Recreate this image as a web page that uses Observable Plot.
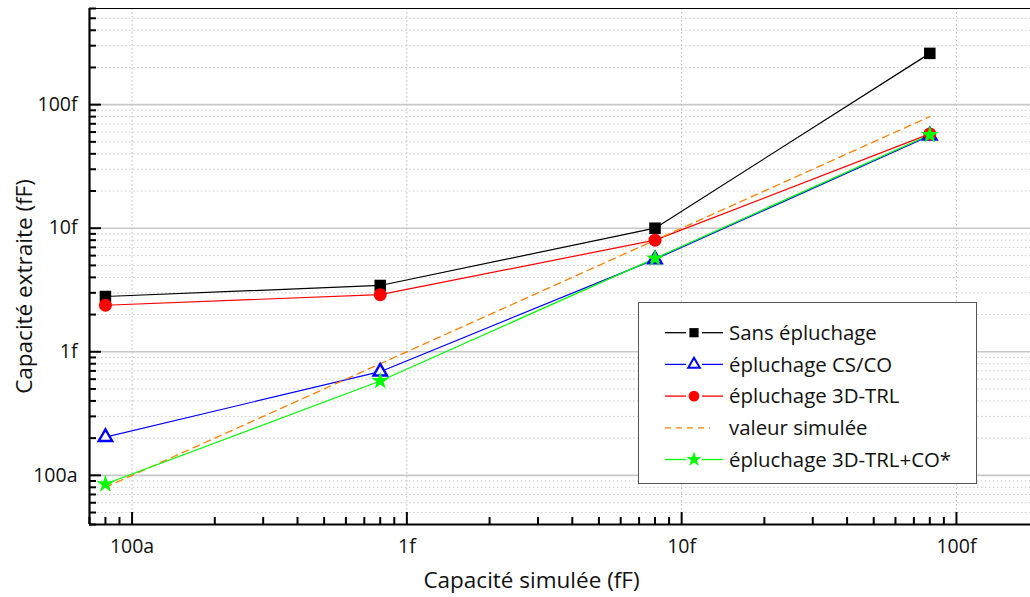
<!DOCTYPE html>
<html><head><meta charset="utf-8">
<script src="https://cdn.jsdelivr.net/npm/d3@7"></script>
<script src="https://cdn.jsdelivr.net/npm/@observablehq/plot@0.6"></script>
<style>
body{margin:0;background:#fff;font-family:"Open Sans",sans-serif;}
#wrap{position:relative;width:1030px;height:597px;overflow:hidden}
#legend{position:absolute;left:638px;top:302px;width:337px;height:180px;border:1.5px solid #555;background:#fff;}
#legend svg{display:block}
</style></head><body><div id="wrap"></div>
<script>
// ---- data ----
const simulated = [0.08, 0.8, 8, 80];                 // capacité simulée (fF)
const sansEpluchage = [2.8, 3.44, 10, 260];
const epluchageCSCO = [0.204, 0.69, 5.6, 56];
const epluchage3DTRL = [2.38, 2.9, 8.0, 58];
const valeurSimulee = [0.08, 0.8, 8, 80];
const epluchage3DTRLCO = [0.085, 0.58, 5.7, 57];
const seriesNames = ["Sans épluchage", "épluchage CS/CO", "épluchage 3D-TRL", "valeur simulée", "épluchage 3D-TRL+CO*"];
const majorTicks = [0.1, 1, 10, 100];
const majorLabels = ["100a", "1f", "10f", "100f"];
const xDomain = [0.07, 186];
const yDomain = [0.04, 600];

// ---- layout ----
const W = 1030, H = 597, mL = 89, mR = 0, mT = 8, mB = 73;
const innerW = W - mL - mR, innerH = H - mT - mB;

// ---- styles ----
const styles = [
  {values: sansEpluchage, color: "#000000", symbol: "square", r: 6.5, fill: "#000", sw: 0, lw: 1.2},
  {values: epluchageCSCO, color: "#0000ff", symbol: "triangle", r: 5, fill: "#fff", sw: 2.4, lw: 1.2},
  {values: epluchage3DTRL, color: "#ff0000", symbol: "circle", r: 6.5, fill: "#ff0000", sw: 0, lw: 1.2},
  {values: valeurSimulee, color: "#ff8000", symbol: null, dash: "7,5", lw: 1.3},
  {values: epluchage3DTRLCO, color: "#00ff00", symbol: "star", r: 5.6, fill: "#00ff00", sw: 0, lw: 1.2}
];

const fmt = d => majorLabels[majorTicks.indexOf(d)];
const minorY = [], minorX = [];
for (const dec of [0.01, 0.1, 1, 10, 100]) for (let m = 2; m <= 9; m++) {
  const v = +(dec * m).toPrecision(3);
  if (v >= yDomain[0] && v <= yDomain[1]) minorY.push(v);
  if (v >= xDomain[0] && v <= xDomain[1]) minorX.push(v);
}

const marks = [
  Plot.ruleY(minorY, {stroke: "#c8c8c8", strokeDasharray: "1.5,2.5", strokeWidth: 1}),
  Plot.ruleY(majorTicks, {stroke: "#c8c8c8", strokeWidth: 1.6}),
  Plot.ruleX(majorTicks, {stroke: "#bbbbbb", strokeDasharray: "1.5,2.5", strokeWidth: 1})
];
styles.forEach((s) => {
  const data = simulated.map((x, i) => ({x, y: s.values[i]}));
  marks.push(Plot.line(data, {x: "x", y: "y", stroke: s.color, strokeWidth: s.lw, strokeDasharray: s.dash}));
});
styles.forEach((s) => {
  if (!s.symbol) return;
  const data = simulated.map((x, i) => ({x, y: s.values[i]}));
  marks.push(Plot.dot(data, {x: "x", y: "y", symbol: () => s.symbol, r: s.r, fill: s.fill,
    stroke: s.sw ? s.color : "none", strokeWidth: s.sw}));
});
marks.push(
  Plot.ruleX([xDomain[0]], {stroke: "#000", strokeWidth: 2.2}),
  Plot.ruleY([yDomain[0]], {stroke: "#000", strokeWidth: 2.2}),
  Plot.ruleY([yDomain[1]], {stroke: "#000", strokeWidth: 1.2}),
  // inward ticks
  Plot.tickY(majorTicks, {y: d => d, insetRight: innerW - 12, stroke: "#000", strokeWidth: 2}),
  Plot.tickY(minorY, {y: d => d, insetRight: innerW - 7, stroke: "#000", strokeWidth: 2}),
  Plot.tickX(majorTicks, {x: d => d, insetTop: innerH - 12, stroke: "#000", strokeWidth: 2}),
  Plot.tickX(minorX, {x: d => d, insetTop: innerH - 7, stroke: "#000", strokeWidth: 2}),
  Plot.axisY(majorTicks, {anchor: "left", tickSize: 0, tickPadding: 12, tickFormat: fmt, fontSize: 19.5, fill: "#111", label: null}),
  Plot.axisX(majorTicks, {anchor: "bottom", tickSize: 0, tickPadding: 15, tickFormat: fmt, fontSize: 19.5, fill: "#111", label: null}),
  Plot.text(["Capacité simulée (fF)"], {frameAnchor: "bottom", textAnchor: "middle", lineAnchor: "middle", dx: -28.5, dy: 56, fontSize: 22.5, fill: "#111"}),
  Plot.text(["Capacité extraite (fF)"], {frameAnchor: "left", textAnchor: "middle", lineAnchor: "middle", rotate: -90, dx: -65, dy: 20, fontSize: 22.5, fill: "#111"})
);

const chart = Plot.plot({
  width: W, height: H,
  marginLeft: mL, marginRight: mR, marginTop: mT, marginBottom: mB,
  style: {fontFamily: "Open Sans", background: "#fff"},
  x: {type: "log", domain: xDomain, label: null},
  y: {type: "log", domain: yDomain, label: null},
  marks
});
const wrap = document.getElementById("wrap");
wrap.appendChild(chart);

// ---- legend ----
const leg = document.createElement("div");
leg.id = "legend";
wrap.appendChild(leg);
const svg = d3.select(leg).append("svg").attr("width", 337).attr("height", 180);
const symMap = {square: d3.symbolSquare, triangle: d3.symbolTriangle, circle: d3.symbolCircle, star: d3.symbolStar};
const legR = {square: 5.2, triangle: 4.3, circle: 5.4, star: 4.8};
styles.forEach((s, i) => {
  const cy = 29.7 + i * 31.7;
  const g = svg.append("g");
  if (s.symbol) {
    g.append("line").attr("x1", 26).attr("x2", 47).attr("y1", cy).attr("y2", cy).attr("stroke", s.color).attr("stroke-width", 1.3);
    g.append("line").attr("x1", 63).attr("x2", 84).attr("y1", cy).attr("y2", cy).attr("stroke", s.color).attr("stroke-width", 1.3);
    const r = legR[s.symbol];
    g.append("path").attr("transform", `translate(55,${cy})`)
      .attr("d", d3.symbol(symMap[s.symbol], Math.PI * r * r)())
      .attr("fill", s.fill).attr("stroke", s.sw ? s.color : "none").attr("stroke-width", s.sw ? 2 : 0);
  } else {
    g.append("line").attr("x1", 26).attr("x2", 71).attr("y1", cy).attr("y2", cy).attr("stroke", s.color)
      .attr("stroke-width", 1.3).attr("stroke-dasharray", "6,5");
  }
  g.append("text").attr("x", 90).attr("y", cy).attr("dy", "0.35em").attr("font-size", 20.4)
    .attr("font-family", "Open Sans").attr("fill", "#111").text(seriesNames[i]);
});
</script>
</body></html>
